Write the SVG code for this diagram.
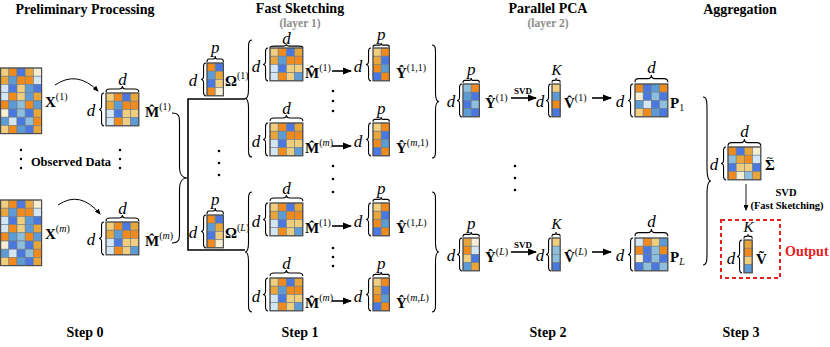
<svg xmlns="http://www.w3.org/2000/svg" width="830" height="347" viewBox="0 0 830 347">
<style>
.o{fill:#F08A1D}.g{fill:#E8A63A}.t{fill:#F0CE7E}.c{fill:#F6EED2}.b{fill:#4B78E0}.m{fill:#5D9BD5}.l{fill:#8DBEDC}.p{fill:#D4E6F3}
.cell{stroke:#6f7c88;stroke-width:0.6}
.fr{fill:none;stroke:#4d4d4d;stroke-width:1.2}
text{font-family:"Liberation Serif","Times New Roman",serif;fill:#000}
.tt{font-weight:bold;font-size:14px;text-anchor:middle}
.sub{font-weight:bold;font-size:11.5px;text-anchor:middle;fill:#8c8c8c}
.it{font-style:italic;font-size:17px;text-anchor:middle}
.kk{font-style:italic;font-size:15px;text-anchor:middle}
.lb{font-weight:bold;font-size:15px}
.sp{font-weight:normal;font-size:10px}
.sm{font-weight:bold;font-size:9px;text-anchor:middle}
.s3{font-weight:bold;font-size:10.5px;text-anchor:middle}
.ob{font-weight:bold;font-size:12.5px;text-anchor:middle}
.out{font-weight:bold;font-size:14px;fill:#E8201C}
.br{fill:none;stroke:#000;stroke-width:1.1;vector-effect:non-scaling-stroke}
.ln{fill:none;stroke:#000;stroke-width:1.6}
.ar{fill:none;stroke:#000;stroke-width:1.6;marker-end:url(#ah)}
</style>
<defs>
<marker id="ah" markerUnits="userSpaceOnUse" markerWidth="9" markerHeight="8" refX="8" refY="4" orient="auto"><path d="M0,0.5 L9,4 L0,7.5z"/></marker>
<marker id="ah2" markerUnits="userSpaceOnUse" markerWidth="6" markerHeight="5" refX="5" refY="2.5" orient="auto"><path d="M0,0 L6,2.5 L0,5z"/></marker>
<rect id="q" width="8.2" height="8.2"/>
<path id="lbr" class="br" d="M10,0 C5,0 5,3 5,8 L5,42 C5,47 3,50 0,50 C3,50 5,53 5,58 L5,92 C5,97 5,100 10,100"/>
<path id="sbr" class="br" d="M6,0 C3.5,0 3,1.5 3,4 L3,13.5 C3,16 1.5,17 0,17 C1.5,17 3,18 3,20.5 L3,30 C3,32.5 3.5,34 6,34"/>
<path id="obr" class="br" d="M0,6 C0,3.5 1.5,3 4,3 L13.5,3 C16,3 17,1.5 17,0 C17,1.5 18,3 20.5,3 L30,3 C32.5,3 34,3.5 34,6"/>
<g id="mX" class="cell">
<use href="#q" class="t"/><use href="#q" x="8.2" class="o"/><use href="#q" x="16.4" class="b"/><use href="#q" x="24.6" class="g"/><use href="#q" x="32.8" class="c"/>
<use href="#q" y="8.2" class="g"/><use href="#q" x="8.2" y="8.2" class="m"/><use href="#q" x="16.4" y="8.2" class="o"/><use href="#q" x="24.6" y="8.2" class="o"/><use href="#q" x="32.8" y="8.2" class="p"/>
<use href="#q" y="16.4" class="p"/><use href="#q" x="8.2" y="16.4" class="b"/><use href="#q" x="16.4" y="16.4" class="t"/><use href="#q" x="24.6" y="16.4" class="m"/><use href="#q" x="32.8" y="16.4" class="b"/>
<use href="#q" y="24.6" class="p"/><use href="#q" x="8.2" y="24.6" class="o"/><use href="#q" x="16.4" y="24.6" class="t"/><use href="#q" x="24.6" y="24.6" class="m"/><use href="#q" x="32.8" y="24.6" class="g"/>
<use href="#q" y="32.8" class="o"/><use href="#q" x="8.2" y="32.8" class="m"/><use href="#q" x="16.4" y="32.8" class="l"/><use href="#q" x="24.6" y="32.8" class="o"/><use href="#q" x="32.8" y="32.8" class="m"/>
<use href="#q" y="41" class="c"/><use href="#q" x="8.2" y="41" class="b"/><use href="#q" x="16.4" y="41" class="l"/><use href="#q" x="24.6" y="41" class="b"/><use href="#q" x="32.8" y="41" class="g"/>
<use href="#q" y="49.2" class="m"/><use href="#q" x="8.2" y="49.2" class="p"/><use href="#q" x="16.4" y="49.2" class="b"/><use href="#q" x="24.6" y="49.2" class="l"/><use href="#q" x="32.8" y="49.2" class="o"/>
<use href="#q" y="57.4" class="t"/><use href="#q" x="8.2" y="57.4" class="o"/><use href="#q" x="16.4" y="57.4" class="m"/><use href="#q" x="24.6" y="57.4" class="b"/><use href="#q" x="32.8" y="57.4" class="g"/>
<rect class="fr" width="41" height="65.6"/>
</g>
<g id="mM" class="cell">
<use href="#q" class="t"/><use href="#q" x="8.2" class="o"/><use href="#q" x="16.4" class="b"/><use href="#q" x="24.6" class="g"/>
<use href="#q" y="8.2" class="g"/><use href="#q" x="8.2" y="8.2" class="m"/><use href="#q" x="16.4" y="8.2" class="o"/><use href="#q" x="24.6" y="8.2" class="o"/>
<use href="#q" y="16.4" class="p"/><use href="#q" x="8.2" y="16.4" class="b"/><use href="#q" x="16.4" y="16.4" class="t"/><use href="#q" x="24.6" y="16.4" class="t"/>
<use href="#q" y="24.6" class="p"/><use href="#q" x="8.2" y="24.6" class="o"/><use href="#q" x="16.4" y="24.6" class="t"/><use href="#q" x="24.6" y="24.6" class="m"/>
<rect class="fr" width="32.8" height="32.8"/>
</g>
<g id="mOm" class="cell">
<use href="#q" class="o"/><use href="#q" x="8.2" class="b"/>
<use href="#q" y="8.2" class="m"/><use href="#q" x="8.2" y="8.2" class="g"/>
<use href="#q" y="16.4" class="b"/><use href="#q" x="8.2" y="16.4" class="t"/>
<use href="#q" y="24.6" class="o"/><use href="#q" x="8.2" y="24.6" class="c"/>
<rect class="fr" width="16.4" height="32.8"/>
</g>
<g id="mY1" class="cell">
<use href="#q" class="t"/><use href="#q" x="8.2" class="o"/>
<use href="#q" y="8.2" class="g"/><use href="#q" x="8.2" y="8.2" class="b"/>
<use href="#q" y="16.4" class="o"/><use href="#q" x="8.2" y="16.4" class="m"/>
<use href="#q" y="24.6" class="b"/><use href="#q" x="8.2" y="24.6" class="o"/>
<rect class="fr" width="16.4" height="32.8"/>
</g>
<g id="mYA" class="cell">
<use href="#q" class="l"/><use href="#q" x="8.2" class="o"/>
<use href="#q" y="8.2" class="m"/><use href="#q" x="8.2" y="8.2" class="b"/>
<use href="#q" y="16.4" class="b"/><use href="#q" x="8.2" y="16.4" class="l"/>
<use href="#q" y="24.6" class="m"/><use href="#q" x="8.2" y="24.6" class="b"/>
<rect class="fr" width="16.4" height="32.8"/>
</g>
<g id="mYB" class="cell">
<use href="#q" class="g"/><use href="#q" x="8.2" class="c"/>
<use href="#q" y="8.2" class="o"/><use href="#q" x="8.2" y="8.2" class="p"/>
<use href="#q" y="16.4" class="t"/><use href="#q" x="8.2" y="16.4" class="b"/>
<use href="#q" y="24.6" class="m"/><use href="#q" x="8.2" y="24.6" class="g"/>
<rect class="fr" width="16.4" height="32.8"/>
</g>
<g id="mVA" class="cell">
<use href="#q" class="t"/><use href="#q" y="8.2" class="m"/><use href="#q" y="16.4" class="o"/><use href="#q" y="24.6" class="b"/>
<rect class="fr" width="8.2" height="32.8"/>
</g>
<g id="mVB" class="cell">
<use href="#q" class="t"/><use href="#q" y="8.2" class="l"/><use href="#q" y="16.4" class="l"/><use href="#q" y="24.6" class="b"/>
<rect class="fr" width="8.2" height="32.8"/>
</g>
<g id="mVt" class="cell">
<use href="#q" class="g"/><use href="#q" y="8.2" class="o"/><use href="#q" y="16.4" class="t"/><use href="#q" y="24.6" class="m"/>
<rect class="fr" width="8.2" height="32.8"/>
</g>
<g id="mPA" class="cell">
<use href="#q" class="o"/><use href="#q" x="8.2" class="b"/><use href="#q" x="16.4" class="m"/><use href="#q" x="24.6" class="o"/>
<use href="#q" y="8.2" class="c"/><use href="#q" x="8.2" y="8.2" class="b"/><use href="#q" x="16.4" y="8.2" class="l"/><use href="#q" x="24.6" y="8.2" class="b"/>
<use href="#q" y="16.4" class="m"/><use href="#q" x="8.2" y="16.4" class="p"/><use href="#q" x="16.4" y="16.4" class="b"/><use href="#q" x="24.6" y="16.4" class="l"/>
<use href="#q" y="24.6" class="t"/><use href="#q" x="8.2" y="24.6" class="o"/><use href="#q" x="16.4" y="24.6" class="m"/><use href="#q" x="24.6" y="24.6" class="b"/>
<rect class="fr" width="32.8" height="32.8"/>
</g>
<g id="mPB" class="cell">
<use href="#q" class="p"/><use href="#q" x="8.2" class="o"/><use href="#q" x="16.4" class="t"/><use href="#q" x="24.6" class="m"/>
<use href="#q" y="8.2" class="o"/><use href="#q" x="8.2" y="8.2" class="b"/><use href="#q" x="16.4" y="8.2" class="l"/><use href="#q" x="24.6" y="8.2" class="o"/>
<use href="#q" y="16.4" class="c"/><use href="#q" x="8.2" y="16.4" class="b"/><use href="#q" x="16.4" y="16.4" class="l"/><use href="#q" x="24.6" y="16.4" class="b"/>
<use href="#q" y="24.6" class="b"/><use href="#q" x="8.2" y="24.6" class="l"/><use href="#q" x="16.4" y="24.6" class="b"/><use href="#q" x="24.6" y="24.6" class="l"/>
<rect class="fr" width="32.8" height="32.8"/>
</g>
<g id="mS" class="cell">
<use href="#q" class="o"/><use href="#q" x="8.2" class="b"/><use href="#q" x="16.4" class="g"/><use href="#q" x="24.6" class="c"/>
<use href="#q" y="8.2" class="l"/><use href="#q" x="8.2" y="8.2" class="g"/><use href="#q" x="16.4" y="8.2" class="o"/><use href="#q" x="24.6" y="8.2" class="p"/>
<use href="#q" y="16.4" class="b"/><use href="#q" x="8.2" y="16.4" class="t"/><use href="#q" x="16.4" y="16.4" class="t"/><use href="#q" x="24.6" y="16.4" class="b"/>
<use href="#q" y="24.6" class="o"/><use href="#q" x="8.2" y="24.6" class="c"/><use href="#q" x="16.4" y="24.6" class="l"/><use href="#q" x="24.6" y="24.6" class="g"/>
<rect class="fr" width="32.8" height="32.8"/>
</g>
</defs>
<rect width="830" height="347" fill="#fff"/>

<g id="titles">
<text class="tt" x="85" y="14">Preliminary Processing</text>
<text class="tt" x="300" y="13">Fast Sketching</text>
<text class="sub" x="300" y="26.5">(layer 1)</text>
<text class="tt" x="548" y="13">Parallel PCA</text>
<text class="sub" x="548" y="26.5">(layer 2)</text>
<text class="tt" x="740" y="14">Aggregation</text>
<text class="tt" x="85" y="337">Step 0</text>
<text class="tt" x="300" y="337">Step 1</text>
<text class="tt" x="548" y="337">Step 2</text>
<text class="tt" x="741" y="337">Step 3</text>
</g>

<g id="x1"><use href="#mX" x="0.6" y="68"/><text class="lb" x="45" y="107">X<tspan class="sp" dy="-7">(1)</tspan></text></g>
<g id="xm"><use href="#mX" x="0.6" y="200"/><text class="lb" x="45" y="239">X<tspan class="sp" dy="-7">(<tspan font-style="italic">m</tspan>)</tspan></text></g>
<g id="obs">
<text class="ob" x="71" y="166">Observed Data</text>
<circle cx="21" cy="150" r="1.2"/><circle cx="21" cy="159" r="1.2"/><circle cx="21" cy="168" r="1.2"/>
<circle cx="120" cy="150" r="1.2"/><circle cx="120" cy="159" r="1.2"/><circle cx="120" cy="168" r="1.2"/>
</g>
<g id="m01">
<text class="it" x="122.4" y="85">d</text><use href="#obr" transform="translate(106,86) scale(0.965,1)"/>
<text class="it" x="91" y="116">d</text><use href="#sbr" transform="translate(99,93) scale(0.85,0.97)"/>
<use href="#mM" x="106" y="93"/>
<text class="lb" x="145" y="117">M&#x302;<tspan class="sp" dy="-7">(1)</tspan></text>
</g>
<g id="m0m">
<text class="it" x="122.4" y="214">d</text><use href="#obr" transform="translate(106,215) scale(0.965,1)"/>
<text class="it" x="91" y="245">d</text><use href="#sbr" transform="translate(99,222) scale(0.85,0.97)"/>
<use href="#mM" x="106" y="222"/>
<text class="lb" x="145" y="246">M&#x302;<tspan class="sp" dy="-7">(<tspan font-style="italic">m</tspan>)</tspan></text>
</g>

<g id="om1">
<text class="it" x="215.2" y="53">p</text><use href="#obr" transform="translate(207,56) scale(0.482,1)"/>
<text class="it" x="193" y="86">d</text><use href="#sbr" transform="translate(201,63) scale(0.85,0.97)"/>
<use href="#mOm" x="207" y="63"/>
<text class="lb" x="225" y="86">&#x3A9;<tspan class="sp" dy="-7">(1)</tspan></text>
</g>
<g id="omL">
<text class="it" x="215.2" y="205">p</text><use href="#obr" transform="translate(207,208) scale(0.482,1)"/>
<text class="it" x="193" y="238">d</text><use href="#sbr" transform="translate(201,215) scale(0.85,0.97)"/>
<use href="#mOm" x="207" y="215"/>
<text class="lb" x="225" y="238">&#x3A9;<tspan class="sp" dy="-7">(<tspan font-style="italic">L</tspan>)</tspan></text>
</g>
<g id="vdots1"><circle cx="219" cy="151" r="1.3"/><circle cx="219" cy="163" r="1.3"/><circle cx="219" cy="175" r="1.3"/></g>

<g id="r1">
<text class="it" x="286.4" y="44">d</text><use href="#obr" transform="translate(270,44.3) scale(0.965,0.6)"/>
<text class="it" x="256" y="72">d</text><use href="#sbr" transform="translate(263,48) scale(0.85,0.97)"/>
<use href="#mM" x="270" y="48"/>
<text class="lb" x="305" y="78">M&#x302;<tspan class="sp" dy="-7">(1)</tspan></text>
<text class="it" x="358" y="72">d</text><use href="#sbr" transform="translate(366,48) scale(0.85,0.97)"/>
<use href="#mY1" x="373" y="48"/>
<text class="it" x="381.2" y="40">p</text><use href="#obr" transform="translate(373,43) scale(0.482,0.7)"/>
<text class="lb" x="396" y="78">&#x176;<tspan class="sp" dy="-7">(1,1)</tspan></text>
</g>
<g id="r2">
<text class="it" x="286.4" y="114">d</text><use href="#obr" transform="translate(270,115) scale(0.965,1)"/>
<text class="it" x="256" y="147">d</text><use href="#sbr" transform="translate(263,123) scale(0.85,0.97)"/>
<use href="#mM" x="270" y="123"/>
<text class="lb" x="305" y="153">M&#x302;<tspan class="sp" dy="-7">(<tspan font-style="italic">m</tspan>)</tspan></text>
<text class="it" x="358" y="147">d</text><use href="#sbr" transform="translate(366,123) scale(0.85,0.97)"/>
<use href="#mY1" x="373" y="123"/>
<text class="it" x="381.2" y="114">p</text><use href="#obr" transform="translate(373,117) scale(0.482,0.8)"/>
<text class="lb" x="396" y="153">&#x176;<tspan class="sp" dy="-7">(<tspan font-style="italic">m</tspan>,1)</tspan></text>
</g>
<g id="r3">
<text class="it" x="286.4" y="194">d</text><use href="#obr" transform="translate(270,195) scale(0.965,1)"/>
<text class="it" x="256" y="227">d</text><use href="#sbr" transform="translate(263,203) scale(0.85,0.97)"/>
<use href="#mM" x="270" y="203"/>
<text class="lb" x="305" y="233">M&#x302;<tspan class="sp" dy="-7">(1)</tspan></text>
<text class="it" x="358" y="227">d</text><use href="#sbr" transform="translate(366,203) scale(0.85,0.97)"/>
<use href="#mY1" x="373" y="203"/>
<text class="it" x="381.2" y="194">p</text><use href="#obr" transform="translate(373,197) scale(0.482,0.8)"/>
<text class="lb" x="396" y="233">&#x176;<tspan class="sp" dy="-7">(1,<tspan font-style="italic">L</tspan>)</tspan></text>
</g>
<g id="r4">
<text class="it" x="286.4" y="269">d</text><use href="#obr" transform="translate(270,270) scale(0.965,1)"/>
<text class="it" x="256" y="302">d</text><use href="#sbr" transform="translate(263,278) scale(0.85,0.97)"/>
<use href="#mM" x="270" y="278"/>
<text class="lb" x="305" y="308">M&#x302;<tspan class="sp" dy="-7">(<tspan font-style="italic">m</tspan>)</tspan></text>
<text class="it" x="358" y="302">d</text><use href="#sbr" transform="translate(366,278) scale(0.85,0.97)"/>
<use href="#mY1" x="373" y="278"/>
<text class="it" x="381.2" y="269">p</text><use href="#obr" transform="translate(373,272) scale(0.482,0.8)"/>
<text class="lb" x="396" y="308">&#x176;<tspan class="sp" dy="-7">(<tspan font-style="italic">m</tspan>,<tspan font-style="italic">L</tspan>)</tspan></text>
</g>
<g id="vdots2">
<circle cx="333" cy="91" r="1.3"/><circle cx="333" cy="101" r="1.3"/><circle cx="333" cy="111" r="1.3"/>
<circle cx="333" cy="166" r="1.3"/><circle cx="333" cy="179" r="1.3"/><circle cx="333" cy="192" r="1.3"/>
<circle cx="333" cy="248" r="1.3"/><circle cx="333" cy="257" r="1.3"/><circle cx="333" cy="266" r="1.3"/>
</g>

<g id="s2a">
<text class="it" x="451" y="107">d</text><use href="#sbr" transform="translate(457,84) scale(0.85,0.97)"/>
<use href="#mYA" x="463" y="84"/>
<text class="it" x="471.2" y="75">p</text><use href="#obr" transform="translate(463,78) scale(0.482,0.8)"/>
<text class="lb" x="485" y="108">&#x176;<tspan class="sp" dy="-7">(1)</tspan></text>
<text class="it" x="540" y="107">d</text><use href="#sbr" transform="translate(546,84) scale(0.85,0.97)"/>
<use href="#mVA" x="552" y="84"/>
<text class="kk" x="556.6" y="75">K</text><use href="#obr" transform="translate(552,78) scale(0.241,0.8)"/>
<text class="lb" x="564" y="108">V&#x302;<tspan class="sp" dy="-7">(1)</tspan></text>
<text class="it" x="620" y="107">d</text><use href="#sbr" transform="translate(628,84) scale(0.85,0.97)"/>
<use href="#mPA" x="635" y="84"/>
<text class="it" x="651.4" y="73">d</text><use href="#obr" transform="translate(635,75) scale(0.965,1.2)"/>
<text class="lb" x="670" y="108">P<tspan class="sp" dy="3">1</tspan></text>
</g>
<g id="s2b">
<text class="it" x="451" y="261">d</text><use href="#sbr" transform="translate(457,238) scale(0.85,0.97)"/>
<use href="#mYB" x="463" y="238"/>
<text class="it" x="471.2" y="229">p</text><use href="#obr" transform="translate(463,232) scale(0.482,0.8)"/>
<text class="lb" x="485" y="262">&#x176;<tspan class="sp" dy="-7">(<tspan font-style="italic">L</tspan>)</tspan></text>
<text class="it" x="540" y="261">d</text><use href="#sbr" transform="translate(546,238) scale(0.85,0.97)"/>
<use href="#mVB" x="552" y="238"/>
<text class="kk" x="556.6" y="229">K</text><use href="#obr" transform="translate(552,232) scale(0.241,0.8)"/>
<text class="lb" x="564" y="262">V&#x302;<tspan class="sp" dy="-7">(<tspan font-style="italic">L</tspan>)</tspan></text>
<text class="it" x="620" y="261">d</text><use href="#sbr" transform="translate(628,238) scale(0.85,0.97)"/>
<use href="#mPB" x="635" y="238"/>
<text class="it" x="651.4" y="227">d</text><use href="#obr" transform="translate(635,229) scale(0.965,1.2)"/>
<text class="lb" x="670" y="262">P<tspan class="sp" dy="3" font-style="italic">L</tspan></text>
</g>
<g id="vdots3"><circle cx="515" cy="166" r="1.3"/><circle cx="515" cy="178" r="1.3"/><circle cx="515" cy="190" r="1.3"/></g>

<g id="sigma">
<text class="it" x="744.4" y="137">d</text><use href="#obr" transform="translate(728,139) scale(0.965,1.2)"/>
<text class="it" x="714" y="170">d</text><use href="#sbr" transform="translate(721,147) scale(0.85,0.97)"/>
<use href="#mS" x="728" y="147"/>
<text class="lb" x="765" y="170">&#x3A3;<tspan dx="-7.8" dy="-9" style="font-size:11px">~</tspan></text>
</g>
<g id="output">
<rect x="721" y="220" width="59" height="58" fill="none" stroke="#E8201C" stroke-width="2" stroke-dasharray="4,3"/>
<text class="kk" x="748.6" y="232">K</text><use href="#obr" transform="translate(744,234) scale(0.241,0.8)"/>
<text class="it" x="731" y="264">d</text><use href="#sbr" transform="translate(737,240) scale(0.85,0.97)"/>
<use href="#mVt" x="744" y="240"/>
<text class="lb" x="756" y="264">&#x1E7C;</text>
<text class="out" x="785" y="256">Output</text>
</g>

<g id="connectors">
<path d="M55,85 Q77,70 98,91" fill="none" stroke="#000" stroke-width="1" marker-end="url(#ah2)"/>
<path d="M58,205 Q80,190 100,214" fill="none" stroke="#000" stroke-width="1" marker-end="url(#ah2)"/>
<use href="#lbr" transform="translate(187,113) scale(-1.5,1.3)"/>
<path class="ln" d="M245,99 H188 V250 H245"/>
<use href="#lbr" transform="translate(245,40) scale(0.7,1.17)"/>
<use href="#lbr" transform="translate(245,192) scale(0.7,1.2)"/>
<line class="ar" x1="332" y1="71" x2="351" y2="71"/>
<line class="ar" x1="332" y1="146" x2="351" y2="146"/>
<line class="ar" x1="332" y1="226" x2="351" y2="226"/>
<line class="ar" x1="332" y1="301" x2="351" y2="301"/>
<use href="#lbr" transform="translate(439,45) scale(-0.7,1.13)"/>
<use href="#lbr" transform="translate(439,192) scale(-0.7,1.2)"/>
<text class="sm" x="523" y="94">SVD</text>
<line class="ar" x1="511" y1="98" x2="536" y2="98"/>
<line class="ar" x1="592" y1="98" x2="611" y2="98"/>
<text class="sm" x="523" y="248">SVD</text>
<line class="ar" x1="511" y1="252" x2="536" y2="252"/>
<line class="ar" x1="592" y1="252" x2="611" y2="252"/>
<use href="#lbr" transform="translate(711,97) scale(-0.8,1.68)"/>
<line x1="746" y1="184" x2="746" y2="210" stroke="#000" stroke-width="0.9" marker-end="url(#ah2)"/>
<text class="s3" x="786" y="196">SVD</text>
<text class="s3" x="787" y="209">(Fast Sketching)</text>
</g>
</svg>
